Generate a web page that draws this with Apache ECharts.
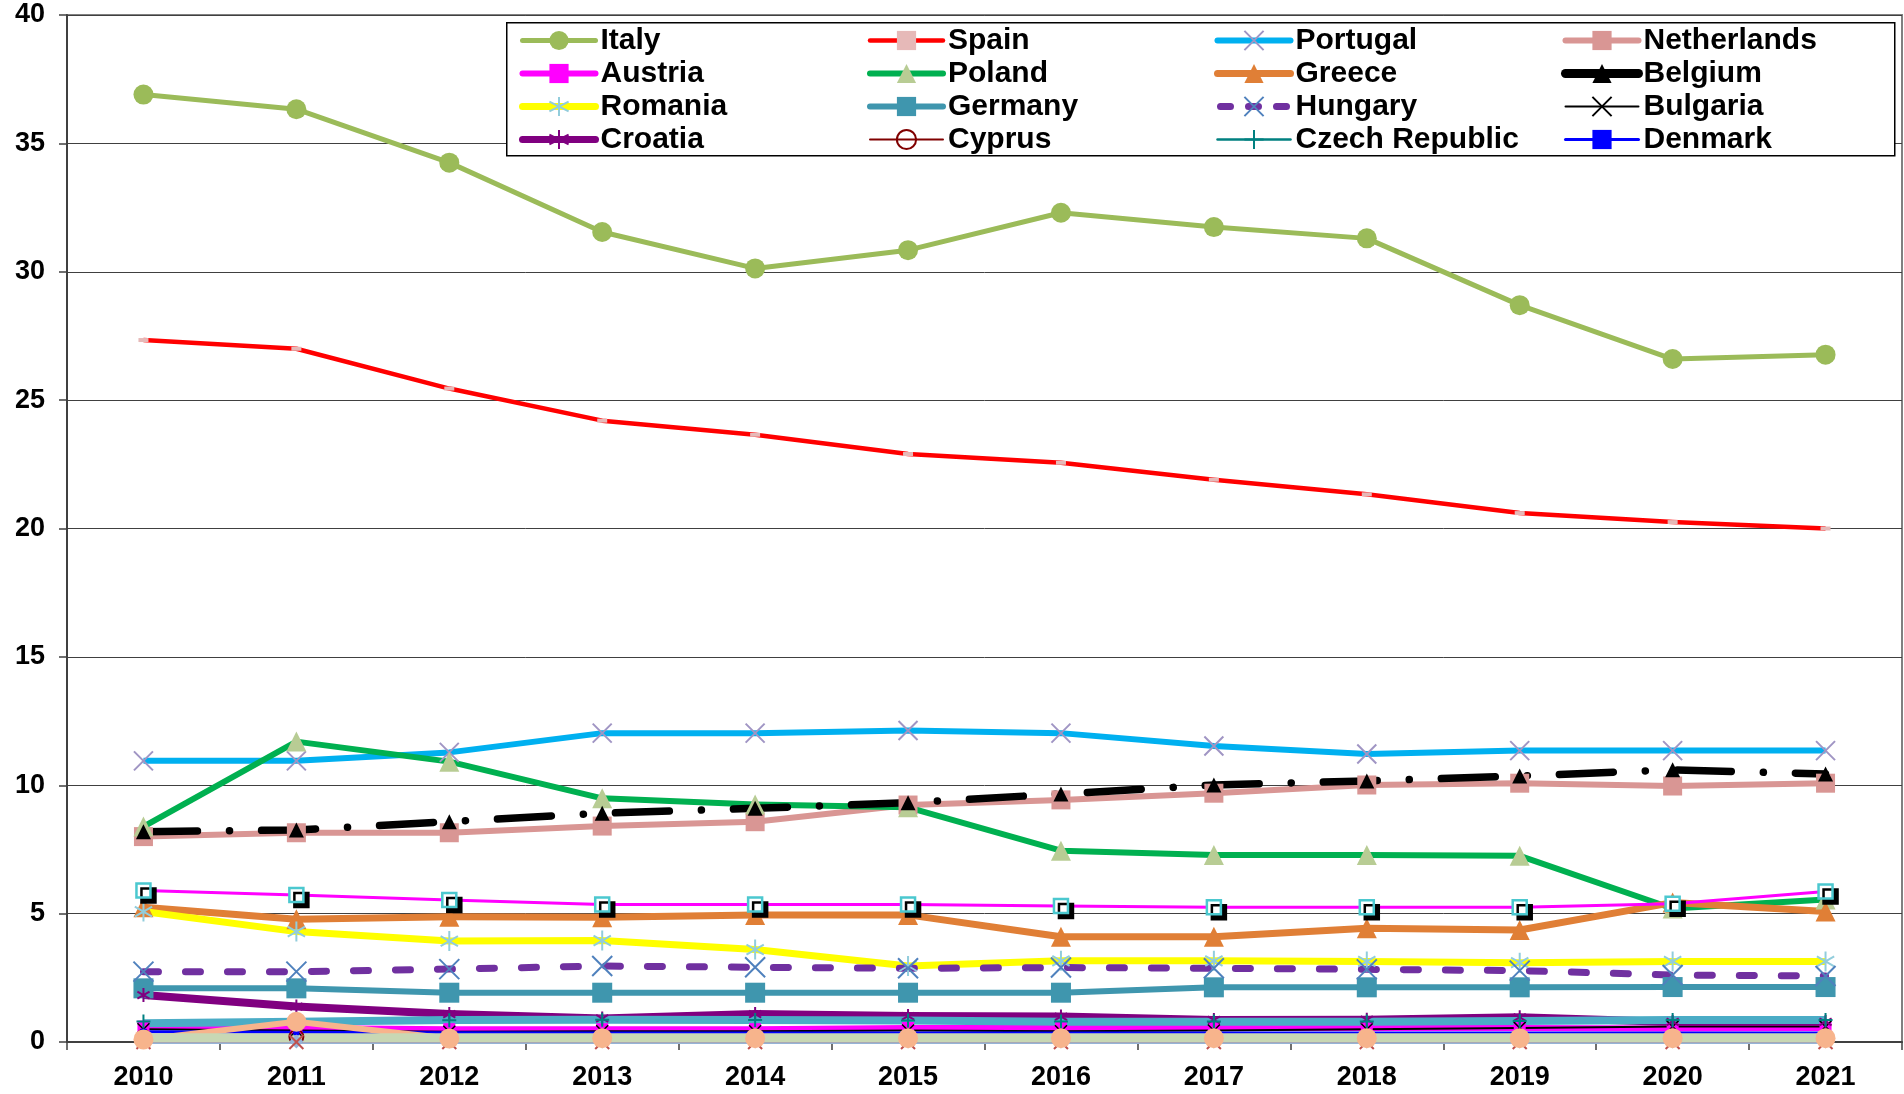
<!DOCTYPE html>
<html><head><meta charset="utf-8">
<script src="https://cdn.jsdelivr.net/npm/echarts@6/dist/echarts.min.js"></script>
<style>html,body{margin:0;padding:0;background:#fff}#c{width:1904px;height:1094px}</style>
</head><body><div id="c"></div>
<script>
const years = ['2010','2011','2012','2013','2014','2015','2016','2017','2018','2019','2020','2021'];
const yTicks = [0,5,10,15,20,25,30,35,40];

const italy       = [36.9, 36.33, 34.25, 31.55, 30.13, 30.84, 32.3, 31.74, 31.3, 28.7, 26.6, 26.77];
const spain       = [27.34, 27.0, 25.45, 24.2, 23.65, 22.9, 22.56, 21.9, 21.33, 20.6, 20.25, 20.0];
const portugal    = [10.95, 10.95, 11.28, 12.03, 12.03, 12.13, 12.03, 11.53, 11.22, 11.35, 11.35, 11.35];
const netherlands = [8.0, 8.15, 8.15, 8.41, 8.58, 9.23, 9.43, 9.69, 10.01, 10.08, 9.97, 10.08];
const austria     = [0.6, 0.55, 0.5, 0.5, 0.5, 0.55, 0.55, 0.55, 0.55, 0.55, 0.53, 0.55];
const poland      = [8.39, 11.7, 10.92, 9.49, 9.25, 9.14, 7.45, 7.28, 7.28, 7.25, 5.2, 5.55];
const greece      = [5.25, 4.78, 4.88, 4.86, 4.95, 4.95, 4.1, 4.1, 4.43, 4.36, 5.43, 5.08];
const belgium     = [8.19, 8.26, 8.58, 8.91, 9.1, 9.32, 9.66, 10.01, 10.17, 10.36, 10.6, 10.44];
const romania     = [5.08, 4.3, 3.93, 3.95, 3.6, 2.96, 3.16, 3.16, 3.14, 3.09, 3.14, 3.14];
const germany     = [2.09, 2.09, 1.92, 1.92, 1.92, 1.92, 1.92, 2.13, 2.13, 2.13, 2.14, 2.14];
const hungary     = [2.74, 2.74, 2.84, 2.96, 2.91, 2.87, 2.9, 2.87, 2.83, 2.78, 2.61, 2.57];
const bulgaria    = [0.5, 0.45, 0.4, 0.42, 0.42, 0.45, 0.42, 0.45, 0.5, 0.55, 0.6, 0.6];
const croatia     = [1.83, 1.38, 1.09, 0.92, 1.09, 1.01, 0.99, 0.86, 0.87, 0.96, 0.78, 0.78];
const cyprus      = [0.2, 0.2, 0.2, 0.2, 0.2, 0.2, 0.2, 0.2, 0.2, 0.2, 0.2, 0.2];
const czech       = [0.8, 0.8, 0.85, 0.87, 0.86, 0.84, 0.8, 0.8, 0.8, 0.82, 0.86, 0.86];
const denmark     = [0.4, 0.38, 0.36, 0.35, 0.35, 0.35, 0.35, 0.35, 0.35, 0.35, 0.35, 0.35];
// series without a legend entry
const otherA = [5.9, 5.73, 5.53, 5.36, 5.36, 5.36, 5.3, 5.25, 5.25, 5.25, 5.38, 5.86];
const otherB = [0.73, 0.79, 0.86, 0.87, 0.86, 0.84, 0.79, 0.79, 0.79, 0.82, 0.86, 0.86];
const otherC = [0.1, 0.79, 0.14, 0.15, 0.15, 0.15, 0.15, 0.15, 0.15, 0.15, 0.15, 0.15];
const otherD = [0.17, 0.17, 0.17, 0.17, 0.17, 0.17, 0.17, 0.17, 0.17, 0.17, 0.17, 0.17];
const otherE = [0.02, 0.02, 0.02, 0.02, 0.02, 0.02, 0.02, 0.02, 0.02, 0.02, 0.02, 0.02];
const otherF = [0, 0, 0, 0, 0, 0, 0, 0, 0, 0, 0, 0];

const X_PATH = 'path://M0,0L10,10M10,0L0,10';
const AST_PATH = 'path://M5,0L5,10M0.67,2.5L9.33,7.5M9.33,2.5L0.67,7.5';
const PLUS_PATH = 'path://M5,0L5,10M0,5L10,5';

const legendWidths = {};
function mk(name, data, o) {
  legendWidths[name] = o.lw || o.width || 5;
  return {
    name: name, type: 'line', data: data,
    symbol: o.symbol || 'none', symbolSize: o.size || 10, symbolKeepAspect: true,
    showSymbol: true, animation: false, silent: true,
    emphasis: { disabled: true },
    lineStyle: { color: o.line, width: o.width || 5, type: o.type || 'solid', cap: o.cap || 'butt', join: 'round' },
    itemStyle: Object.assign({ color: o.mcolor || o.line, borderColor: o.mborder || o.mcolor || o.line, borderWidth: o.bw || 0, opacity: 1 }, o.is || {})
  };
}

const series = [
  mk('Italy', italy, { line: '#9bbb59', width: 5, symbol: 'circle', size: 20 }),
  mk('Spain', spain, { line: '#ff0000', width: 4.5, symbol: 'rect', size: [10, 4], mcolor: '#e6b9b8' }),
  mk('Portugal', portugal, { line: '#00b0f0', width: 6, symbol: X_PATH, size: 19, mcolor: '#a095c4', bw: 2 }),
  mk('Netherlands', netherlands, { line: '#d99694', width: 6, symbol: 'rect', size: 19 }),
  mk('Austria', austria, { line: '#ff00ff', width: 6, symbol: 'rect', size: 12 }),
  mk('Poland', poland, { line: '#00b050', width: 6, symbol: 'triangle', size: 20, mcolor: '#b8cc94' }),
  mk('Greece', greece, { line: '#e07f36', width: 7, symbol: 'triangle', size: 20 }),
  mk('Belgium', belgium, { line: '#000000', width: 7.5, type: [54, 32, 0.1, 32], cap: 'round', symbol: 'triangle', size: 15, lw: 9 }),
  mk('Romania', romania, { line: '#ffff00', width: 7, symbol: AST_PATH, size: 20, mcolor: '#92cddc', bw: 2 }),
  mk('Germany', germany, { line: '#3f96ae', width: 6, symbol: 'rect', size: 20 }),
  mk('Hungary', hungary, { line: '#7030a0', width: 7, type: [15, 27], cap: 'round', symbol: X_PATH, size: 20, mcolor: '#4f81bd', bw: 2 }),
  mk('Bulgaria', bulgaria, { line: '#000000', width: 2, symbol: X_PATH, size: 12, bw: 1.5 }),
  mk('Croatia', croatia, { line: '#800080', width: 8, symbol: AST_PATH, size: 14, bw: 2, lw: 7 }),
  mk('Cyprus', cyprus, { line: '#800000', width: 2, symbol: 'circle', size: 14, mcolor: 'rgba(255,255,255,0)', mborder: '#800000', bw: 2 }),
  mk('Czech Republic', czech, { line: '#008080', width: 2.5, symbol: PLUS_PATH, size: 14, bw: 2 }),
  mk('Denmark', denmark, { line: '#0000ff', width: 3, symbol: 'rect', size: 6 }),
  mk('Other E', otherE, { line: '#95b3d7', width: 5, symbol: 'diamond', size: 14 }),
  mk('Other F', otherF, { line: '#c0504d', width: 1, symbol: X_PATH, size: 14, bw: 2 }),
  mk('Other B', otherB, { line: '#4bacc6', width: 8 }),
  mk('Other C', otherC, { line: '#f7b48c', width: 6, symbol: 'circle', size: 20 }),
  mk('Other D', otherD, { line: '#c8d7b4', width: 9 }),
  mk('Other A', otherA, { line: '#ff00ff', width: 3, symbol: 'rect', size: 14, mcolor: '#ffffff', mborder: '#4bc8cf', bw: 2.5,
    is: { shadowColor: '#000000', shadowBlur: 0, shadowOffsetX: 5, shadowOffsetY: 5 } })
];

const font = 'Liberation Sans, Arial, sans-serif';
function legend(names, left) {
  return {
    data: names.map(n => ({ name: n, lineStyle: { width: legendWidths[n], cap: 'round', type: n === 'Hungary' ? [10, 18] : 'solid', dashOffset: n === 'Hungary' ? -3 : 0 } })),
    orient: 'vertical', left: left, top: 24,
    itemWidth: 73, itemHeight: 24, itemGap: 0, selectedMode: false,
    padding: 0, z: 110,
    textStyle: { fontFamily: font, fontWeight: 'bold', fontSize: 30, color: '#000', lineHeight: 33 }
  };
}

const chart = echarts.init(document.getElementById('c'), null, { renderer: 'canvas' });
chart.setOption({
  backgroundColor: '#ffffff',
  animation: false,
  grid: { left: 67, right: 2, top: 15, bottom: 52, show: true, borderColor: '#808080', borderWidth: 2, backgroundColor: '#fff' },
  graphic: [{
    type: 'rect', left: 506, top: 22, z: 100,
    shape: { width: 1388, height: 133 },
    style: { fill: '#ffffff', stroke: '#000000', lineWidth: 1.5 }
  }],
  legend: [
    legend(['Italy', 'Austria', 'Romania', 'Croatia'], 519),
    legend(['Spain', 'Poland', 'Germany', 'Cyprus'], 867),
    legend(['Portugal', 'Greece', 'Hungary', 'Czech Republic'], 1214),
    legend(['Netherlands', 'Belgium', 'Bulgaria', 'Denmark'], 1561)
  ],
  xAxis: {
    type: 'category', data: years, boundaryGap: true,
    axisLine: { lineStyle: { color: '#404040', width: 2 } },
    axisTick: { show: true, length: 8, lineStyle: { color: '#404040', width: 1.5 } },
    axisLabel: { fontFamily: font, fontWeight: 'bold', fontSize: 27, color: '#000', margin: 22 },
    splitLine: { show: false }
  },
  yAxis: {
    type: 'value', min: yTicks[0], max: yTicks[yTicks.length - 1], interval: 5,
    axisLine: { show: true, lineStyle: { color: '#404040', width: 2 } },
    axisTick: { show: true, length: 8, lineStyle: { color: '#404040', width: 1.5 } },
    axisLabel: { fontFamily: font, fontWeight: 'bold', fontSize: 27, color: '#000', margin: 22 },
    splitLine: { show: true, lineStyle: { color: '#404040', width: 1 } }
  },
  series: series
});
</script>
</body></html>
